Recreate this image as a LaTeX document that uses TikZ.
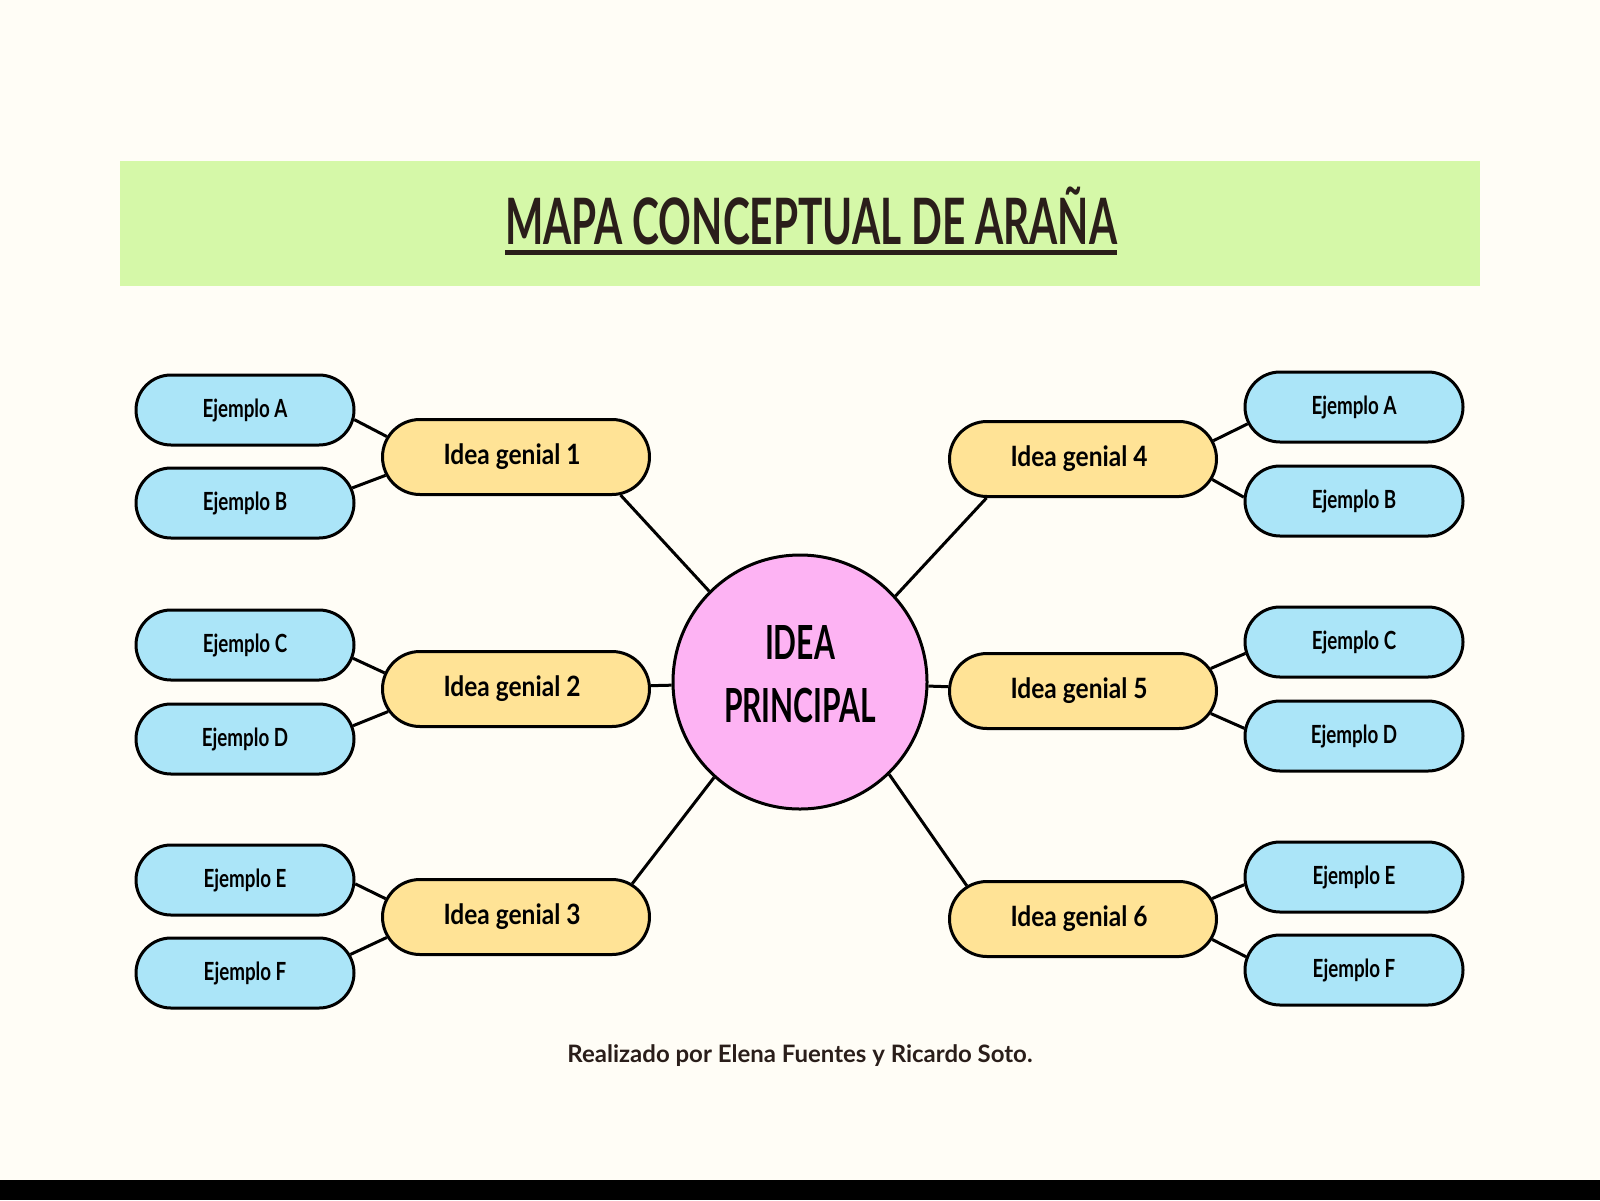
\documentclass[tikz,border=0pt]{standalone}
\usepackage{fontspec}
\setmainfont{Lato}
\usepackage{graphicx}
\usetikzlibrary{shapes.misc}
\definecolor{bgcream}{HTML}{FFFDF6}
\definecolor{bandgreen}{HTML}{D5F8A8}
\definecolor{exblue}{HTML}{ABE5F8}
\definecolor{ideayellow}{HTML}{FFE396}
\definecolor{centerpink}{HTML}{FDB3F3}
\definecolor{titleink}{HTML}{2A1E1A}
\newlength\ideaw
\newlength\exw
\newcommand\ideatxt[1]{\scalebox{\ideasx}[1]{#1}\hspace*{8pt}}
\newcommand\extxt[1]{\scalebox{\exsx}[1]{#1}}
\begin{document}
\settowidth\ideaw{\fontsize{28}{28}\selectfont\bfseries Idea genial 1}%
\settowidth\exw{\fontsize{25}{25}\selectfont\bfseries Ejemplo A}%
\pgfmathsetmacro\ideasx{137/\ideaw}%
\pgfmathsetmacro\exsx{85/\exw}%
\begin{tikzpicture}[x=1pt,y=-1pt,
  conn/.style={line width=3pt, draw=black},
  exbox/.style={rounded rectangle, draw=black, line width=3pt, fill=exblue,
    minimum width=218pt, minimum height=70pt, inner sep=0pt,
    font=\fontsize{25}{25}\selectfont\bfseries},
  ideabox/.style={rounded rectangle, draw=black, line width=3pt, fill=ideayellow,
    minimum width=267pt, minimum height=75pt, inner sep=0pt,
    font=\fontsize{28}{28}\selectfont\bfseries},
  plain/.style={inner sep=0pt, outer sep=0pt}
]
\useasboundingbox (0,0) rectangle (1600,1200);
\fill[bgcream] (0,0) rectangle (1600,1180);
\fill[black] (0,1180) rectangle (1600,1200);
% title band
\fill[bandgreen] (120,161) rectangle (1480,286);
\node[plain, anchor=base, text=titleink] (title) at (811,244)
  {\resizebox{612pt}{\height}{\fontsize{64}{64}\selectfont\bfseries MAPA CONCEPTUAL DE ARAÑA}};
\draw[titleink, line width=5.5pt] ([yshift=-8.5pt]title.base west) -- ([yshift=-8.5pt]title.base east);
% center
\node[circle, draw=black, line width=3pt, fill=centerpink, minimum size=254pt, inner sep=0pt] (c) at (800,682) {};
\node[plain, align=center, font=\fontsize{47}{63}\selectfont\bfseries] (ct) at (800,674)
  {\resizebox{70pt}{\height}{IDEA}\\\resizebox{152pt}{\height}{PRINCIPAL}};
% ideas
\node[ideabox] (i1) at (516,457) {\ideatxt{Idea genial 1}};
\node[ideabox] (i2) at (516,689) {\ideatxt{Idea genial 2}};
\node[ideabox] (i3) at (516,917) {\ideatxt{Idea genial 3}};
\node[ideabox] (i4) at (1083,459) {\ideatxt{Idea genial 4}};
\node[ideabox] (i5) at (1083,691) {\ideatxt{Idea genial 5}};
\node[ideabox] (i6) at (1083,919) {\ideatxt{Idea genial 6}};
% left examples
\node[exbox] (la) at (245,410) {\extxt{Ejemplo A}};
\node[exbox] (lb) at (245,503) {\extxt{Ejemplo B}};
\node[exbox] (lc) at (245,645) {\extxt{Ejemplo C}};
\node[exbox] (ld) at (245,739) {\extxt{Ejemplo D}};
\node[exbox] (le) at (245,880) {\extxt{Ejemplo E}};
\node[exbox] (lf) at (245,973) {\extxt{Ejemplo F}};
% right examples
\node[exbox] (ra) at (1354,407) {\extxt{Ejemplo A}};
\node[exbox] (rb) at (1354,501) {\extxt{Ejemplo B}};
\node[exbox] (rc) at (1354,642) {\extxt{Ejemplo C}};
\node[exbox] (rd) at (1354,736) {\extxt{Ejemplo D}};
\node[exbox] (re) at (1354,877) {\extxt{Ejemplo E}};
\node[exbox] (rf) at (1354,970) {\extxt{Ejemplo F}};
% connectors idea - center
\draw[conn] (i1.-20) -- (c.135);
\draw[conn] (i2) -- (c);
\draw[conn] (i3.16) -- (c.228);
\draw[conn] (i4.202) -- (c.42);
\draw[conn] (i5) -- (c);
\draw[conn] (i6.164) -- (c.314);
% connectors example - idea
\draw[conn] (la.-5) -- (i1.171);
\draw[conn] (lb.8) -- (i1.188);
\draw[conn] (lc.-7) -- (i2.173);
\draw[conn] (ld.7) -- (i2.190);
\draw[conn] (le.-2) -- (i3.172);
\draw[conn] (lf.10) -- (i3.189);
\draw[conn] (ra.189) -- (i4.8);
\draw[conn] (rb.178) -- (i4.-9);
\draw[conn] (rc.186) -- (i5.10);
\draw[conn] (rd.176) -- (i5.-10);
\draw[conn] (re.184) -- (i6.9);
\draw[conn] (rf.173) -- (i6.-9);
% footer
\node[plain, anchor=base, text=titleink] (foot) at (800,1062)
  {\resizebox{465pt}{\height}{\fontsize{24}{24}\selectfont\bfseries Realizado por Elena Fuentes y Ricardo Soto.}};
\end{tikzpicture}
\end{document}
